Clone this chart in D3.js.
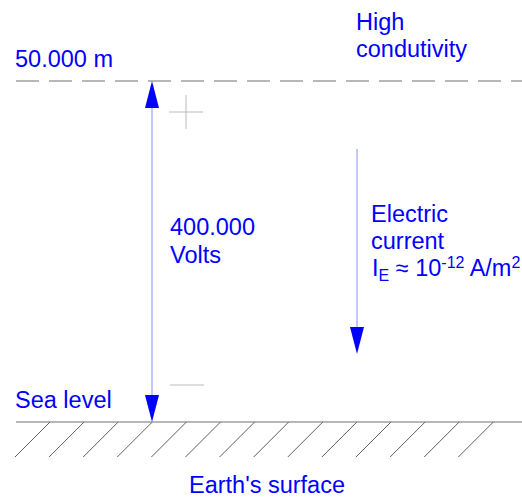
<!DOCTYPE html>
<html>
<head>
<meta charset="utf-8">
<script src="https://cdn.jsdelivr.net/npm/d3@7"></script>
<style>
html,body{margin:0;padding:0;background:#fff;}
svg{display:block;}
text{font-family:"Liberation Sans",Arial,sans-serif;fill:#0000ff;font-size:23.5px;}
</style>
</head>
<body>
<svg id="c" width="522" height="497"></svg>
<script>
// Data
const altitudes = [0, 50000];               // sea level, top of atmosphere layer (m)
const levelLabels = ["Sea level", "50.000 m"];
const topLabel = ["High", "condutivity"];
const voltageLabel = ["400.000", "Volts"];
const currentLabel = ["Electric", "current"];
const surfaceLabel = "Earth's surface";
const hatchCount = 14;

const W = 522, H = 497;
const svg = d3.select("#c");
const y = d3.scaleLinear().domain(altitudes).range([422, 81]);

const blue = "#0000ff";
const yTop = y(altitudes[1]), yGround = y(altitudes[0]);

// dashed upper level
svg.append("line").attr("x1", 16).attr("x2", W).attr("y1", yTop).attr("y2", yTop)
  .attr("stroke", "#707070").attr("stroke-width", 1.2).attr("stroke-dasharray", "23 10");

// ground line
svg.append("line").attr("x1", 16).attr("x2", W).attr("y1", yGround).attr("y2", yGround)
  .attr("stroke", "#707070").attr("stroke-width", 1.2);

// hatching
const hx = d3.range(hatchCount).map(i => 50 + i * 34.1);
svg.selectAll("line.h").data(hx).enter().append("line").attr("class", "h")
  .attr("x1", d => d).attr("y1", yGround).attr("x2", d => d - 35).attr("y2", yGround + 35)
  .attr("stroke", "#606060").attr("stroke-width", 1);

// voltage double arrow
const ax = 152;
svg.append("line").attr("x1", ax).attr("x2", ax).attr("y1", yTop + 20).attr("y2", yGround - 20)
  .attr("stroke", "#a0a0ff").attr("stroke-width", 1.2);
function head(xc, tipY, dir) { // dir: -1 up, +1 down
  const len = 27, hw = 7;
  svg.append("path").attr("d", `M${xc},${tipY} L${xc - hw},${tipY - dir * len} L${xc + hw},${tipY - dir * len} Z`)
    .attr("fill", blue);
}
head(ax, yTop, -1);
head(ax, yGround, 1);

// plus and minus signs
const pc = [186, 112];
svg.append("line").attr("x1", pc[0] - 17).attr("x2", pc[0] + 17).attr("y1", pc[1]).attr("y2", pc[1]).attr("stroke", "#bbb");
svg.append("line").attr("x1", pc[0]).attr("x2", pc[0]).attr("y1", pc[1] - 17).attr("y2", pc[1] + 17).attr("stroke", "#bbb");
svg.append("line").attr("x1", 170).attr("x2", 204).attr("y1", 385).attr("y2", 385).attr("stroke", "#bbb");

// current arrow
const cx = 357;
svg.append("line").attr("x1", cx).attr("x2", cx).attr("y1", 149).attr("y2", 330)
  .attr("stroke", "#a0a0ff").attr("stroke-width", 1.2);
head(cx, 354, 1);

// texts
svg.append("text").attr("x", 15).attr("y", 67).text(levelLabels[1]);
svg.append("text").attr("x", 15).attr("y", 408).text(levelLabels[0]);
topLabel.forEach((t, i) => svg.append("text").attr("x", 356).attr("y", 30 + i * 27).text(t));
voltageLabel.forEach((t, i) => svg.append("text").attr("x", 170).attr("y", 235 + i * 28).text(t));
currentLabel.forEach((t, i) => svg.append("text").attr("x", 371).attr("y", 222 + i * 27).text(t));

const ie = svg.append("text").attr("x", 372).attr("y", 276);
ie.append("tspan").text("I");
ie.append("tspan").attr("dy", 5).attr("font-size", 16).text("E");
ie.append("tspan").attr("dy", -5).text(" \u2248 10");
ie.append("tspan").attr("dy", -8).attr("font-size", 16).text("-12");
ie.append("tspan").attr("dy", 8).text(" A/m");
ie.append("tspan").attr("dy", -8).attr("font-size", 16).text("2");

svg.append("text").attr("x", 267).attr("y", 493).attr("text-anchor", "middle").text(surfaceLabel);
</script>
</body>
</html>
